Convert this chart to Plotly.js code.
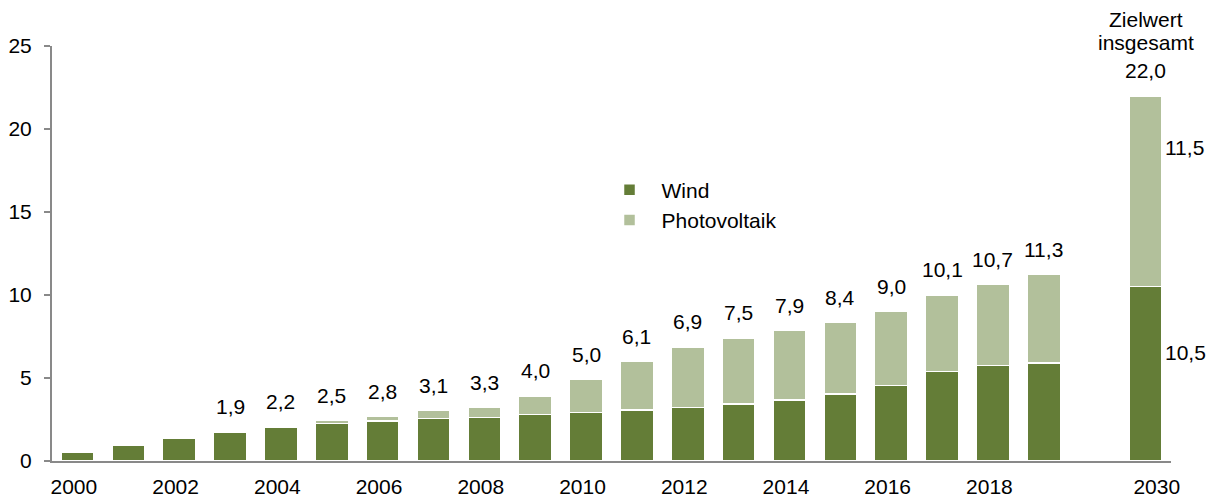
<!DOCTYPE html>
<html>
<head>
<meta charset="utf-8">
<script src="https://cdn.plot.ly/plotly-3.0.1.min.js"></script>
<style>
  html, body { margin: 0; padding: 0; background: #ffffff; }
  #chart { width: 1214px; height: 497px; }
</style>
</head>
<body>
<div id="chart"></div>
<script>
// Categories: 2000–2019, one empty slot, then target year 2030
const years = ['2000','2001','2002','2003','2004','2005','2006','2007','2008','2009',
               '2010','2011','2012','2013','2014','2015','2016','2017','2018','2019','','2030'];
// Wind (dark green) and Photovoltaik (light green)
const wind = [0.55, 0.92, 1.37, 1.76, 2.05, 2.25, 2.41, 2.57, 2.63, 2.79,
              2.91, 3.07, 3.21, 3.43, 3.67, 4.03, 4.56, 5.40, 5.76, 5.90, null, 10.5];
const pv   = [0, 0, 0, 0, 0, 0.20, 0.30, 0.46, 0.58, 1.14,
              2.03, 2.95, 3.67, 3.99, 4.18, 4.30, 4.45, 4.61, 4.88, 5.36, null, 11.5];
// Total labels above the bars
const totalLabels = ['', '', '', '1,9', '2,2', '2,5', '2,8', '3,1', '3,3', '4,0',
                     '5,0', '6,1', '6,9', '7,5', '7,9', '8,4', '9,0', '10,1', '10,7', '11,3', '', '22,0'];
// Tick labels shown on the x axis
const tickYears = ['2000','2002','2004','2006','2008','2010','2012','2014','2016','2018','2030'];
const yTicks = [0, 5, 10, 15, 20, 25];
const targetWindLabel = '10,5';
const targetPvLabel = '11,5';
const targetHeader = ['Zielwert', 'insgesamt'];

const FONT = 'Liberation Sans, Arial, sans-serif';
const FS = 21;
const xIdx = years.map((_, i) => i);
// tick label positions (slightly offset as in the original layout)
const tickvals = tickYears.map(y => years.indexOf(y) + (y === '2030' ? 0.22 : -0.07));

const barCommon = {
  type: 'bar',
  x: xIdx,
  width: 0.65,
  hoverinfo: 'skip'
};

const traces = [
  Object.assign({}, barCommon, {
    name: 'Wind',
    y: wind,
    marker: { color: '#647d37', line: { color: '#ffffff', width: 1.5 } }
  }),
  Object.assign({}, barCommon, {
    name: 'Photovoltaik',
    y: pv,
    marker: { color: '#b2c09b', line: { color: '#ffffff', width: 1.5 } }
  })
];

const annotations = [];
xIdx.forEach(i => {
  if (totalLabels[i]) {
    annotations.push({
      x: i, y: (wind[i] || 0) + (pv[i] || 0),
      xref: 'x', yref: 'y',
      text: totalLabels[i], showarrow: false,
      yanchor: 'middle', yshift: 25,
      font: { family: FONT, size: FS, color: '#000000' }
    });
  }
});
const iT = years.indexOf('2030');
annotations.push({
  x: iT, y: wind[iT] + pv[iT], xref: 'x', yref: 'y',
  text: targetHeader[1], showarrow: false, yanchor: 'middle', yshift: 53,
  font: { family: FONT, size: FS, color: '#000000' }
});
annotations.push({
  x: iT, y: wind[iT] + pv[iT], xref: 'x', yref: 'y',
  text: targetHeader[0], showarrow: false, yanchor: 'middle', yshift: 76,
  font: { family: FONT, size: FS, color: '#000000' }
});
annotations.push({
  x: iT, y: wind[iT] + pv[iT] * 0.73, xref: 'x', yref: 'y',
  text: targetPvLabel, showarrow: false, xanchor: 'left', yanchor: 'middle', xshift: 17,
  font: { family: FONT, size: FS, color: '#000000' }
});
annotations.push({
  x: iT, y: wind[iT] * 0.62, xref: 'x', yref: 'y',
  text: targetWindLabel, showarrow: false, xanchor: 'left', yanchor: 'middle', xshift: 17,
  font: { family: FONT, size: FS, color: '#000000' }
});

const layout = {
  width: 1214, height: 497,
  margin: { l: 52, r: 43, t: 46, b: 36 },
  paper_bgcolor: '#ffffff', plot_bgcolor: '#ffffff',
  barmode: 'stack',
  font: { family: FONT, size: FS, color: '#000000' },
  showlegend: true,
  legend: {
    x: 0.4875, y: 0.702, xanchor: 'left', yanchor: 'top',
    traceorder: 'normal', itemwidth: 54,
    bgcolor: 'rgba(0,0,0,0)',
    font: { family: FONT, size: FS, color: '#000000' }
  },
  xaxis: {
    range: [-0.5, years.length - 0.5],
    tickmode: 'array', tickvals: tickvals, ticktext: tickYears,
    showgrid: false, zeroline: false,
    showline: true, linecolor: '#898989', linewidth: 2,
    ticks: '', ticklabelstandoff: 6,
    tickfont: { family: FONT, size: FS, color: '#000000' }
  },
  yaxis: {
    range: [0, 25],
    tickmode: 'array', tickvals: yTicks, ticktext: yTicks.map(String),
    showgrid: false, zeroline: false,
    showline: true, linecolor: '#898989', linewidth: 2,
    ticks: 'outside', ticklen: 6, tickwidth: 2, tickcolor: '#898989',
    ticklabelstandoff: 8,
    tickfont: { family: FONT, size: FS, color: '#000000' }
  },
  annotations: annotations
};

Plotly.newPlot('chart', traces, layout, { displayModeBar: false, staticPlot: true });
</script>
</body>
</html>
